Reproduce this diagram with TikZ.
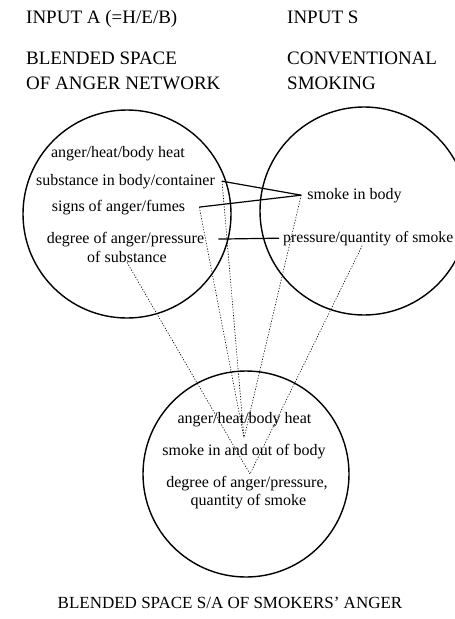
\documentclass[tikz,border=0pt]{standalone}
\usepackage{fontspec}
\setmainfont{Liberation Serif}
\begin{document}
\begin{tikzpicture}[x=1pt,y=-1pt,
  space/.style={circle, draw, line width=1.4pt, inner sep=0pt, minimum size=208pt},
  item/.style={inner sep=0pt, anchor=base, font=\fontsize{16}{19}\selectfont},
  heading/.style={inner sep=0pt, anchor=base west, font=\fontsize{19}{23}\selectfont},
  link/.style={line width=1.2pt},
  proj/.style={line width=0.6pt, dash pattern=on 1.2pt off 1.6pt}]
\useasboundingbox (0,0) rectangle (455,619);

% the three mental spaces
\node[space] (inA) at (127,214) {};
\node[space] (inS) at (364,211) {};
\node[space, minimum size=206pt] (blend) at (246,474) {};

% headings
\node[heading] (hA1) at (26,23) {INPUT A (=H/E/B)};
\node[heading] (hS1) at (287,23) {INPUT S};
\node[heading] (hA2) at (26,64) {BLENDED SPACE};
\node[heading] (hA3) at (26,89) {OF ANGER NETWORK};
\node[heading] (hS2) at (287,64) {CONVENTIONAL};
\node[heading] (hS3) at (287,89) {SMOKING};
\node[heading, anchor=base, font=\fontsize{17}{21}\selectfont] (hB) at (230,608) {BLENDED SPACE S/A OF SMOKERS' ANGER};

% input A elements
\node[item] (a1) at (118,157) {anger/heat/body heat};
\node[item] (a2) at (125.5,185) {substance in body/container};
\node[item] (a3) at (118.5,211) {signs of anger/fumes};
\node[item] (a4) at (125.5,243) {degree of anger/pressure};
\node[item] (a5) at (127,262) {of substance};

% input S elements
\node[item] (s1) at (354.5,199) {smoke in body};
\node[item, anchor=base west, font=\fontsize{15.7}{19}\selectfont] (s2) at (283,242) {pressure/quantity of smoke};

% blend elements
\node[item] (b1) at (244.5,423) {anger/heat/body heat};
\node[item] (b2) at (244,455) {smoke in and out of body};
\node[item] (b3) at (247,487) {degree of anger/pressure,};
\node[item] (b4) at (248.5,505) {quantity of smoke};

% connector ends
\coordinate (a2r) at ([xshift=7pt]a2.east);
\coordinate (a3r) at ([xshift=14pt]a3.east);
\coordinate (a4r) at ([xshift=14pt]a4.east);
\coordinate (s1l) at ([xshift=-6pt]s1.west);
\coordinate (s2l) at ([xshift=-4pt]s2.west);
\coordinate (a5b) at (a5.south);
\coordinate (s2b) at ([xshift=-6pt]s2.south);
\coordinate (m1) at (244,438);
\coordinate (m2) at (250,474);

% cross-space mappings
\draw[link] (a2r) -- (s1l);
\draw[link] (a3r) -- (s1l);
\draw[link] (a4r) -- (s2l);

% projections into the blend
\draw[proj] (a2r) -- (m1);
\draw[proj] (a3r) -- (m1);
\draw[proj] (s1l) -- (m1);
\draw[proj] (a5b) -- (m2);
\draw[proj] (s2b) -- (m2);
\end{tikzpicture}
\end{document}
